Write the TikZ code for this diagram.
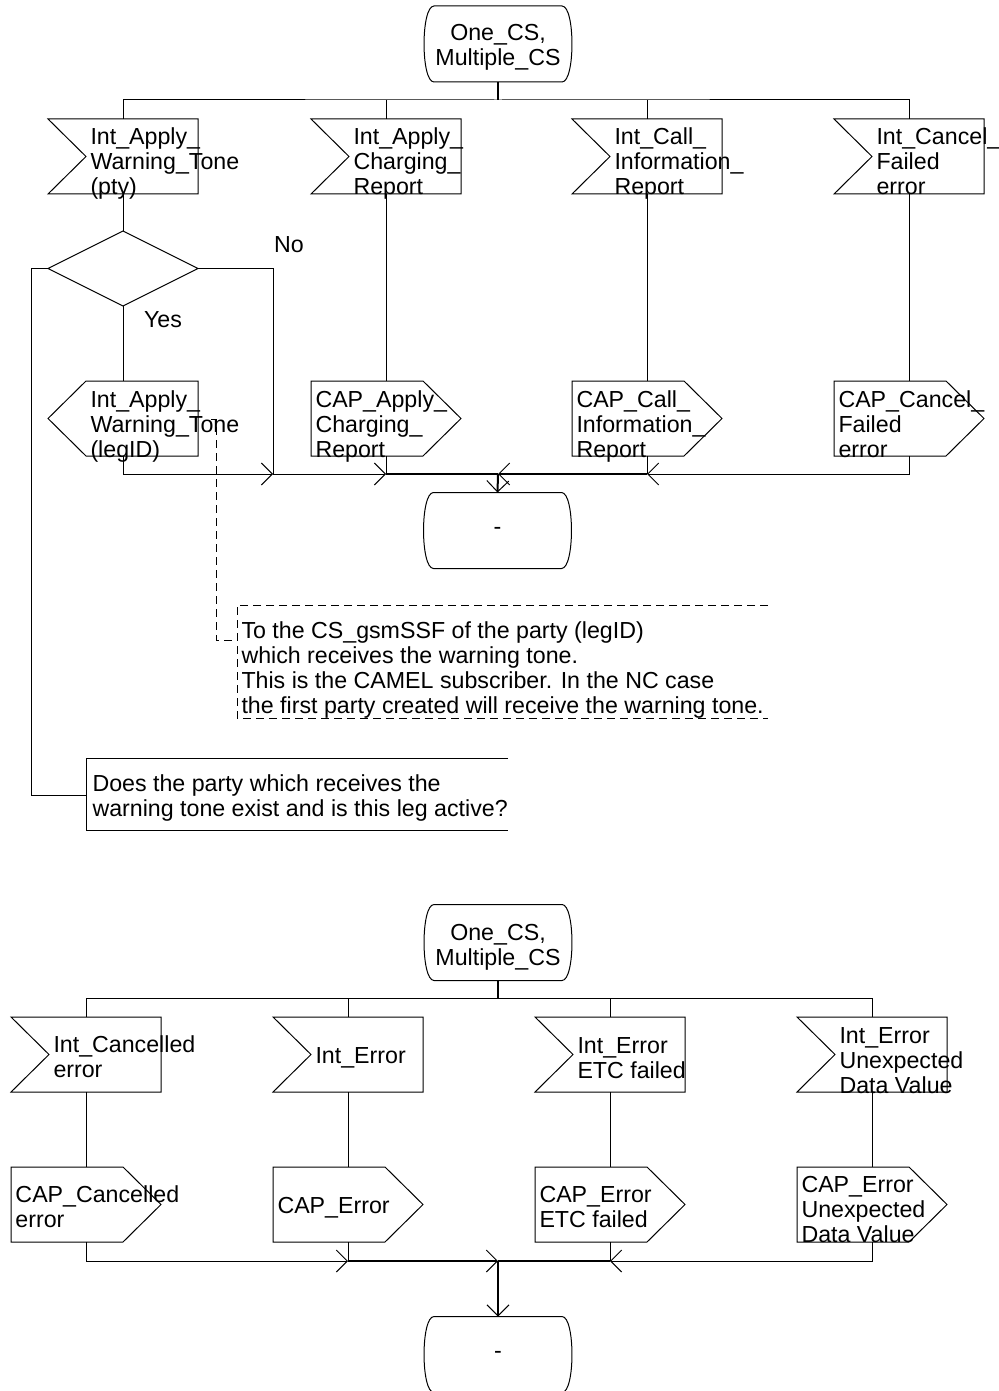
\documentclass[tikz,border=0pt]{standalone}
\usepackage{fontspec}
\setmainfont{Liberation Sans}
\usetikzlibrary{arrows.meta,calc}
\newcommand\mlines[2][l]{\begin{tabular}[t]{@{}#1@{}}#2\end{tabular}}
\newcommand\drawin[1]{\draw (#1.north west) -- (#1.north east) -- (#1.south east) -- (#1.south west) -- ($(#1.west)+(38,0)$) -- cycle;}
\newcommand\drawoutR[1]{\draw (#1.north west) -- ($(#1.north east)+(-38,0)$) -- (#1.east) -- ($(#1.south east)+(-38,0)$) -- (#1.south west) -- cycle;}
\newcommand\drawoutL[1]{\draw ($(#1.north west)+(38,0)$) -- (#1.north east) -- (#1.south east) -- ($(#1.south west)+(38,0)$) -- (#1.west) -- cycle;}
\newcommand\drawstate[1]{\draw ($(#1.north west)+(10,0)$) -- ($(#1.north east)+(-10,0)$) .. controls ($(#1.north east)+(3.3,0)$) and ($(#1.south east)+(3.3,0)$) .. ($(#1.south east)+(-10,0)$) -- ($(#1.south west)+(10,0)$) .. controls ($(#1.south west)+(-3.3,0)$) and ($(#1.north west)+(-3.3,0)$) .. cycle;}
\begin{document}
\begin{tikzpicture}[x=0.5pt,y=-0.5pt,line width=0.5pt,
  sbox/.style={minimum width=75pt,minimum height=37.5pt,inner sep=0pt,outer sep=0pt},
  stbox/.style={minimum width=74pt,minimum height=38pt,inner sep=0pt,outer sep=0pt},
  lbl/.style={font=\fontsize{11.6}{12.5}\selectfont,inner sep=0pt,anchor=base west},
  arr/.style={-{Straight Barb[length=5.5pt,width=11pt,line width=0.5pt]}},
  stem/.style={line width=1pt},
  cdash/.style={dash pattern=on 4pt off 2.5pt}]
\useasboundingbox (0,0) rectangle (998,1391);

% ================= upper diagram =================
\node[stbox] (s1) at (498,44) {};
\drawstate{s1}
\node[lbl,anchor=base] (s1t) at (498,41) {\mlines[c]{One\_CS,\\Multiple\_CS}};

\node[sbox] (i1) at (123,156.5) {}; \drawin{i1}
\node[sbox] (i2) at (386,156.5) {}; \drawin{i2}
\node[sbox] (i3) at (647,156.5) {}; \drawin{i3}
\node[sbox] (i4) at (909,156.5) {}; \drawin{i4}
\node[lbl] (i1t) at ($(i1.north west)+(42,26)$) {\mlines{Int\_Apply\_\\Warning\_Tone\\(pty)}};
\node[lbl] (i2t) at ($(i2.north west)+(42,26)$) {\mlines{Int\_Apply\_\\Charging\_\\Report}};
\node[lbl] (i3t) at ($(i3.north west)+(42,26)$) {\mlines{Int\_Call\_\\Information\_\\Report}};
\node[lbl] (i4t) at ($(i4.north west)+(42,26)$) {\mlines{Int\_Cancel\_\\Failed\\error}};

\coordinate (b1) at (498,100);
\draw[stem] (s1.south) -- (b1);
\draw (i1.north) |- (b1) -| (i4.north);
\draw (i2.north) -- ++(0,-19);
\draw (i3.north) -- ++(0,-19);

\node[sbox] (d) at (123,268.5) {};
\draw (d.north) -- (d.east) -- (d.south) -- (d.west) -- cycle;
\draw (i1.south) -- (d.north);
\node[lbl,anchor=center] (no) at (289,245) {No};
\node[lbl,anchor=center] (yes) at (163,320) {Yes};

\node[sbox] (o1) at (123,418.5) {}; \drawoutL{o1}
\node[sbox] (o2) at (386,418.5) {}; \drawoutR{o2}
\node[sbox] (o3) at (647,418.5) {}; \drawoutR{o3}
\node[sbox] (o4) at (909,418.5) {}; \drawoutR{o4}
\node[lbl] (o1t) at ($(o1.north west)+(42,26)$) {\mlines{Int\_Apply\_\\Warning\_Tone\\(legID)}};
\node[lbl] (o2t) at ($(o2.north west)+(4,26)$) {\mlines{CAP\_Apply\_\\Charging\_\\Report}};
\node[lbl] (o3t) at ($(o3.north west)+(4,26)$) {\mlines{CAP\_Call\_\\Information\_\\Report}};
\node[lbl] (o4t) at ($(o4.north west)+(4,26)$) {\mlines{CAP\_Cancel\_\\Failed\\error}};

\draw (d.south) -- (o1.north);
\draw (i2.south) -- (o2.north);
\draw (i3.south) -- (o3.north);
\draw (i4.south) -- (o4.north);

\node[stbox] (s2) at (497.5,530.5) {};
\drawstate{s2}
\node[lbl,anchor=center] (s2t) at (s2.center) {-};

\coordinate (j1) at (273,474);
\coordinate (j2) at (386,474);
\coordinate (j3) at (498,474);
\coordinate (j4) at (647,474);
\draw[arr] (o1.south) |- (j1);
\draw (d.east) -| (j1);
\draw[arr] (j1) -- (j2);
\draw (o2.south) -- (j2);
\draw[stem] (j2) -- (j3);
\draw[arr] (o4.south) |- (j4);
\draw (o3.south) -- (j4);
\draw[arr,stem] (j4) -- (j3);
\draw[arr,stem] (j3) -- (s2.north);

% comment on the output
\coordinate (cd0) at (211,419);
\coordinate (cd1) at (216,419);
\coordinate (cd2) at (237,640);
\coordinate (cb1) at (768,605);
\coordinate (cb2) at (237,605);
\coordinate (cb3) at (237,718);
\coordinate (cb4) at (768,718);
\draw[cdash] (cd0) -- (cd1) |- (cd2);
\draw[cdash] (cb1) -- (cb2) -- (cb3) -- (cb4);
\node[lbl] (ct) at (241,638) {\mlines{To the CS\_gsmSSF of the party (legID)\\which receives the warning tone.\\This is the CAMEL subscriber. In the NC case\\the first party created will receive the warning tone.}};

% comment on the decision
\coordinate (ca) at (86,795);
\coordinate (cq1) at (508,758);
\coordinate (cq2) at (86,758);
\coordinate (cq3) at (86,830);
\coordinate (cq4) at (508,830);
\draw (d.west) -- ++(-17,0) |- (ca);
\draw (cq1) -- (cq2) -- (cq3) -- (cq4);
\node[lbl] (cqt) at (92,791) {\mlines{Does the party which receives the\\warning tone exist and is this leg active?}};

% ================= lower diagram =================
\node[stbox] (s3) at (498,942.5) {};
\drawstate{s3}
\node[lbl,anchor=base] (s3t) at (498,940) {\mlines[c]{One\_CS,\\Multiple\_CS}};

\node[sbox] (i5) at (86,1054.5) {}; \drawin{i5}
\node[sbox] (i6) at (348,1054.5) {}; \drawin{i6}
\node[sbox] (i7) at (610,1054.5) {}; \drawin{i7}
\node[sbox] (i8) at (872,1054.5) {}; \drawin{i8}
\node[lbl] (i5t) at ($(i5.north west)+(42,35)$) {\mlines{Int\_Cancelled\\error}};
\node[lbl] (i6t) at ($(i6.north west)+(42,46)$) {Int\_Error};
\node[lbl] (i7t) at ($(i7.north west)+(42,36)$) {\mlines{Int\_Error\\ETC failed}};
\node[lbl] (i8t) at ($(i8.north west)+(42,26)$) {\mlines{Int\_Error\\Unexpected\\Data Value}};

\coordinate (b2) at (498,998);
\draw[stem] (s3.south) -- (b2);
\draw (i5.north) |- (b2) -| (i8.north);
\draw (i6.north) -- ++(0,-19);
\draw (i7.north) -- ++(0,-19);

\node[sbox] (o5) at (86,1204.5) {}; \drawoutR{o5}
\node[sbox] (o6) at (348,1204.5) {}; \drawoutR{o6}
\node[sbox] (o7) at (610,1204.5) {}; \drawoutR{o7}
\node[sbox] (o8) at (872,1204.5) {}; \drawoutR{o8}
\node[lbl] (o5t) at ($(o5.north west)+(4,35)$) {\mlines{CAP\_Cancelled\\error}};
\node[lbl] (o6t) at ($(o6.north west)+(4,46)$) {CAP\_Error};
\node[lbl] (o7t) at ($(o7.north west)+(4,35)$) {\mlines{CAP\_Error\\ETC failed}};
\node[lbl] (o8t) at ($(o8.north west)+(4,25)$) {\mlines{CAP\_Error\\Unexpected\\Data Value}};

\draw (i5.south) -- (o5.north);
\draw (i6.south) -- (o6.north);
\draw (i7.south) -- (o7.north);
\draw (i8.south) -- (o8.north);

\node[stbox] (s4) at (498,1354.5) {};
\drawstate{s4}
\node[lbl,anchor=center] (s4t) at (s4.center) {-};

\coordinate (j5) at (348,1261);
\coordinate (j6) at (498,1261);
\coordinate (j7) at (610,1261);
\draw[arr] (o5.south) |- (j5);
\draw (o6.south) -- (j5);
\draw[arr,stem] (j5) -- (j6);
\draw[arr] (o8.south) |- (j7);
\draw (o7.south) -- (j7);
\draw[stem] (j7) -- (j6);
\draw[arr,stem] (j6) -- (s4.north);
\end{tikzpicture}
\end{document}
